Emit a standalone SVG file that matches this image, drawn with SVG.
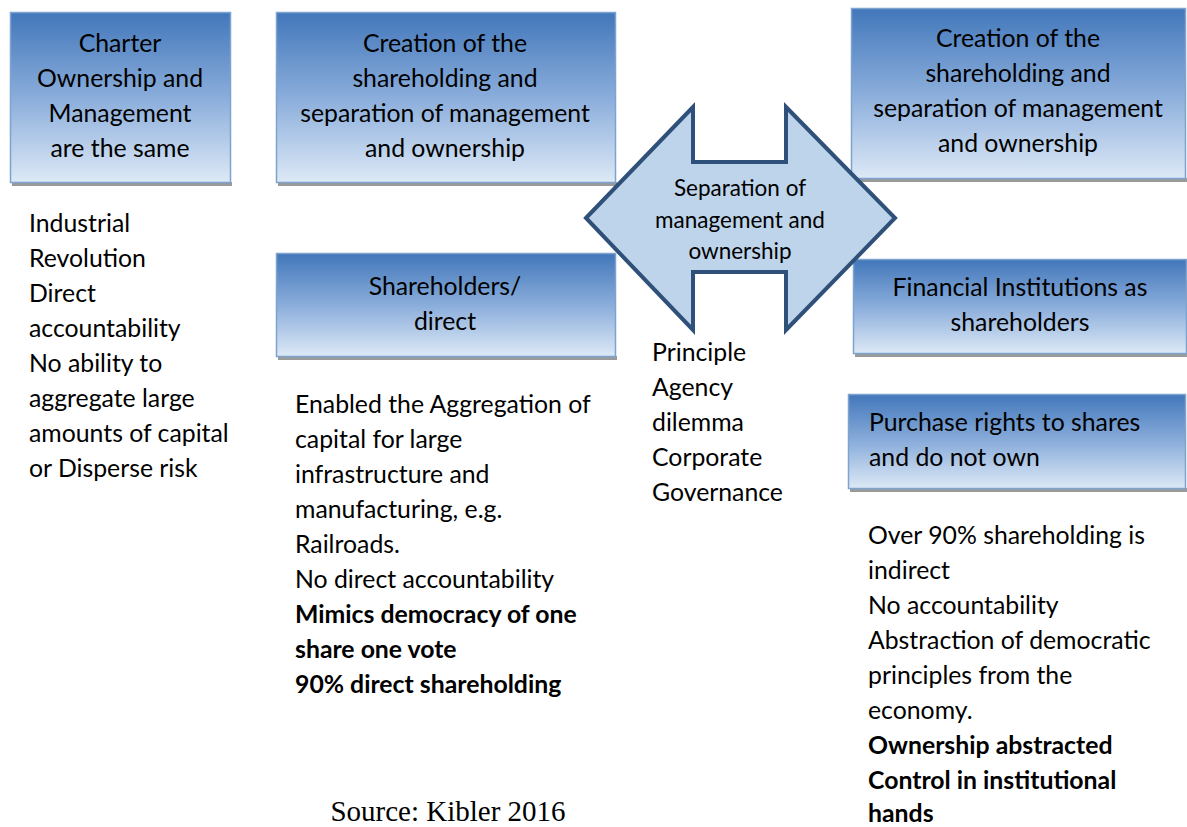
<svg xmlns="http://www.w3.org/2000/svg" width="1187" height="827" viewBox="0 0 1187 827">
  <style>
    .box { fill: url(#boxGrad); stroke: #7ea3cf; stroke-width: 1.5; }
    .shadow { fill: #9a9a9a; }
    .t { font-family: Lato, "Open Sans", "Liberation Sans", sans-serif; font-size: 24.8px; fill: #000; }
    .c { text-anchor: middle; }
    .b { font-weight: bold; }
    .arrowText { font-family: Lato, "Open Sans", "Liberation Sans", sans-serif; font-size: 22.5px; fill: #000; text-anchor: middle; }
    .src { font-family: "Liberation Serif", serif; font-size: 29px; fill: #000; text-anchor: middle; }
  </style>
  <defs>
    <linearGradient id="boxGrad" x1="0" y1="0" x2="0" y2="1">
      <stop offset="0" stop-color="#4277ba"/>
      <stop offset="0.5" stop-color="#8aaddb"/>
      <stop offset="1" stop-color="#dde9f6"/>
    </linearGradient>
  </defs>
  <rect width="1187" height="827" fill="#fff"/>

  <!-- Charter box -->
  <g id="charter">
    <rect class="shadow" x="12" y="182" width="220" height="4"/>
    <rect class="box" x="10.5" y="12.5" width="220" height="170"/>
    <text class="t c" x="120" y="52">Charter</text>
    <text class="t c" x="120" y="87">Ownership and</text>
    <text class="t c" x="120" y="122">Management</text>
    <text class="t c" x="120" y="157">are the same</text>
  </g>

  <!-- Creation box (centre column) -->
  <g id="creation-left">
    <rect class="shadow" x="278" y="182" width="339" height="4"/>
    <rect class="box" x="276.5" y="12.5" width="339" height="170"/>
    <text class="t c" x="445" y="52">Creation of the</text>
    <text class="t c" x="445" y="87">shareholding and</text>
    <text class="t c" x="445" y="122">separation of management</text>
    <text class="t c" x="445" y="157">and ownership</text>
  </g>

  <!-- Creation box (right column) -->
  <g id="creation-right">
    <rect class="shadow" x="853" y="178" width="334" height="4"/>
    <rect class="box" x="851.5" y="8.5" width="334" height="170"/>
    <text class="t c" x="1018" y="47">Creation of the</text>
    <text class="t c" x="1018" y="82">shareholding and</text>
    <text class="t c" x="1018" y="117">separation of management</text>
    <text class="t c" x="1018" y="152">and ownership</text>
  </g>

  <!-- Shareholders/direct box -->
  <g id="shareholders-direct">
    <rect class="shadow" x="278" y="356" width="339" height="4"/>
    <rect class="box" x="276.5" y="253.5" width="339" height="103"/>
    <text class="t c" x="445" y="295">Shareholders/</text>
    <text class="t c" x="445" y="330">direct</text>
  </g>

  <!-- Financial Institutions box -->
  <g id="financial-institutions">
    <rect class="shadow" x="855" y="353" width="332" height="4"/>
    <rect class="box" x="853.5" y="259.5" width="333" height="94"/>
    <text class="t c" x="1020" y="296">Financial Institutions as</text>
    <text class="t c" x="1020" y="331">shareholders</text>
  </g>

  <!-- Purchase rights box -->
  <g id="purchase-rights">
    <rect class="shadow" x="850" y="488" width="337" height="4"/>
    <rect class="box" x="848.5" y="394.5" width="337" height="94"/>
    <text class="t" x="869" y="431">Purchase rights to shares</text>
    <text class="t" x="869" y="466">and do not own</text>
  </g>

  <!-- Double-headed arrow -->
  <g id="separation-arrow">
    <polygon points="586,218 693,107 693,162 786,162 786,107 895,218 786,330 786,272 693,272 693,330"
             fill="#bdd4ea" stroke="#2f5079" stroke-width="4" stroke-linejoin="miter"/>
    <text class="arrowText" x="740" y="196">Separation of</text>
    <text class="arrowText" x="740" y="228">management and</text>
    <text class="arrowText" x="740" y="259">ownership</text>
  </g>

  <!-- Body notes -->
  <g id="notes-left">
    <text class="t" x="29" y="232">Industrial</text>
    <text class="t" x="29" y="267">Revolution</text>
    <text class="t" x="29" y="302">Direct</text>
    <text class="t" x="29" y="337">accountability</text>
    <text class="t" x="29" y="372">No ability to</text>
    <text class="t" x="29" y="407">aggregate large</text>
    <text class="t" x="29" y="442">amounts of capital</text>
    <text class="t" x="29" y="477">or Disperse risk</text>
  </g>

  <g id="notes-middle">
    <text class="t" x="295" y="413">Enabled the Aggregation of</text>
    <text class="t" x="295" y="448">capital for large</text>
    <text class="t" x="295" y="483">infrastructure and</text>
    <text class="t" x="295" y="518">manufacturing, e.g.</text>
    <text class="t" x="295" y="553">Railroads.</text>
    <text class="t" x="295" y="588">No direct accountability</text>
    <text class="t b" x="295" y="623">Mimics democracy of one</text>
    <text class="t b" x="295" y="658">share one vote</text>
    <text class="t b" x="295" y="693">90% direct shareholding</text>
  </g>

  <g id="notes-agency">
    <text class="t" x="652" y="361">Principle</text>
    <text class="t" x="652" y="396">Agency</text>
    <text class="t" x="652" y="431">dilemma</text>
    <text class="t" x="652" y="466">Corporate</text>
    <text class="t" x="652" y="501">Governance</text>
  </g>

  <g id="notes-right">
    <text class="t" x="868" y="544">Over 90% shareholding is</text>
    <text class="t" x="868" y="579">indirect</text>
    <text class="t" x="868" y="614">No accountability</text>
    <text class="t" x="868" y="649">Abstraction of democratic</text>
    <text class="t" x="868" y="684">principles from the</text>
    <text class="t" x="868" y="719">economy.</text>
    <text class="t b" x="868" y="754">Ownership abstracted</text>
    <text class="t b" x="868" y="789">Control in institutional</text>
    <text class="t b" x="868" y="822">hands</text>
  </g>

  <text class="src" x="448" y="821">Source: Kibler 2016</text>
</svg>
